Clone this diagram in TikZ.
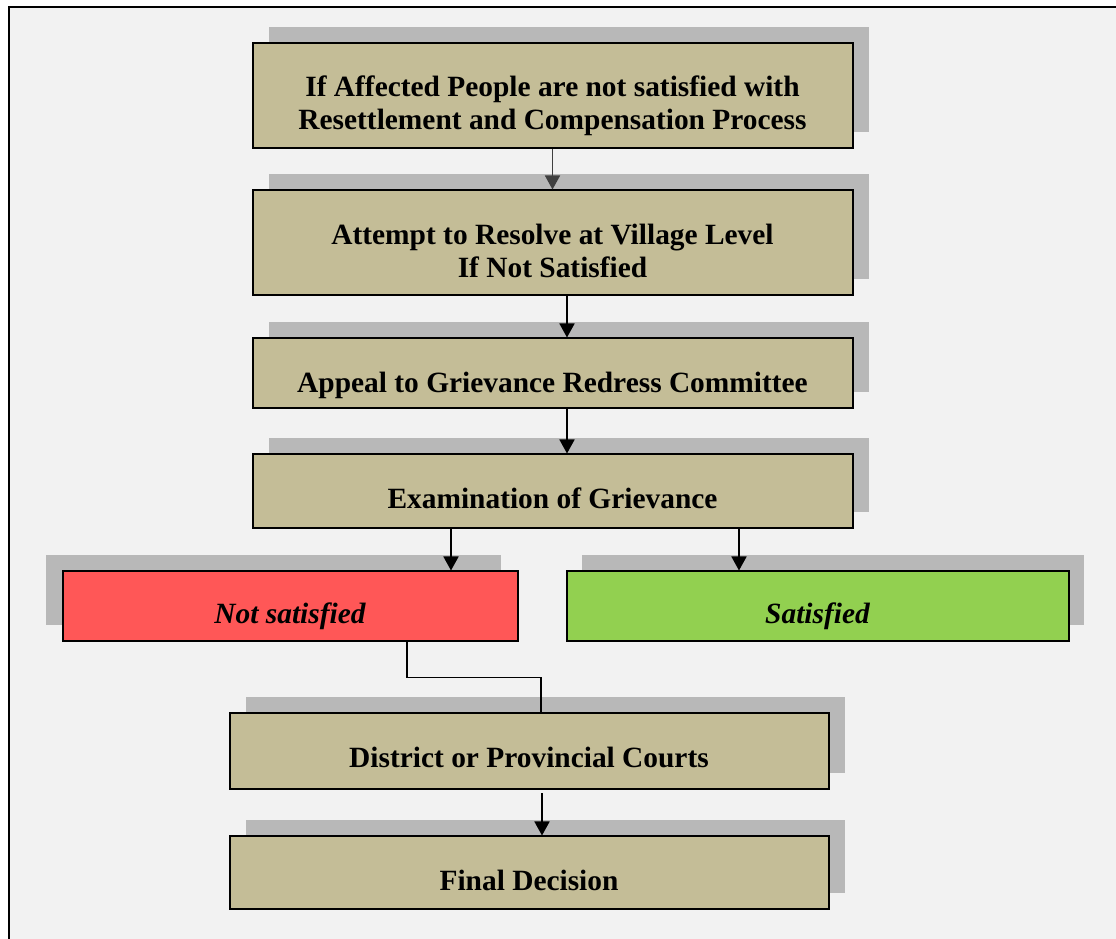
\documentclass[tikz,border=0pt]{standalone}
\usepackage{fontspec}
\setmainfont{Liberation Serif}
\usetikzlibrary{positioning, arrows.meta, shadows}
\definecolor{PaperGrey}{HTML}{F2F2F2}
\definecolor{ShadowGrey}{HTML}{B8B8B8}
\definecolor{StepTan}{RGB}{196, 189, 151}
\definecolor{NoRed}{HTML}{FF5757}
\definecolor{YesGreen}{HTML}{92D050}
\definecolor{ArrowGrey}{HTML}{404040}

\begin{document}
\begin{tikzpicture}[x=1pt, y=1pt,
    flowbox/.style={draw=black, line width=2pt, fill=StepTan, inner sep=0pt, minimum width=600pt},
    shadowed/.style={drop shadow={shadow xshift=#1, shadow yshift=16.5pt, fill=ShadowGrey, opacity=1}},
    flowtext/.style={font=\fontsize{29.4}{33}\selectfont\bfseries, align=center, inner sep=0pt},
    flowarrow/.style={line width=1.7pt, -{Triangle[width=15pt, length=14pt]}},
    link/.style={line width=1.7pt}]
    \useasboundingbox (0,0) rectangle (1116,939);

    % Page and frame
    \fill[white] (0,0) rectangle (1116,939);
    \fill[PaperGrey] (9,0) rectangle (1116,932);
    \draw[line width=2.2pt] (9,0) -- (9,932) -- (1116,932);

    % Main chain
    \node[flowbox, shadowed=16.5pt, minimum height=105pt] (affected) at (552.5,843) {};
    \node[flowtext] (affected-t) at ([yshift=-10]affected.center) {If Affected People are not satisfied with\\Resettlement and Compensation Process};

    \node[flowbox, shadowed=16.5pt, minimum height=105pt] (village) at (552.5,696) {};
    \node[flowtext] (village-t) at ([yshift=-8]village.center) {Attempt to Resolve at Village Level\\If Not Satisfied};

    \node[flowbox, shadowed=16.5pt, minimum height=70pt] (appeal) at (552.5,565.5) {};
    \node[flowtext] (appeal-t) at ([yshift=-11.8]appeal.center) {Appeal to Grievance Redress Committee};

    \node[flowbox, shadowed=16.5pt, minimum height=74pt] (exam) at (552.5,447.5) {};
    \node[flowtext] (exam-t) at ([yshift=-6.5]exam.center) {Examination of Grievance};

    % Outcomes
    \node[flowbox, fill=NoRed, shadowed=-17pt, minimum width=455pt, minimum height=70pt] (notsat) at (290,332.5) {};
    \node[flowtext, font=\fontsize{29.4}{33}\selectfont\bfseries\itshape] (notsat-t) at ([yshift=-10]notsat.center) {Not satisfied};

    \node[flowbox, fill=YesGreen, shadowed=15.5pt, minimum width=502pt, minimum height=70pt] (sat) at (817.5,332.5) {};
    \node[flowtext, font=\fontsize{29.4}{33}\selectfont\bfseries\itshape] (sat-t) at ([yshift=-10]sat.center) {Satisfied};

    % Courts
    \node[flowbox, shadowed=16pt, minimum width=599pt, minimum height=76pt] (court) at (529,187.5) {};
    \node[flowtext] (court-t) at ([yshift=-5.5]court.center) {District or Provincial Courts};

    \node[flowbox, shadowed=16pt, minimum width=599pt, minimum height=73pt] (final) at (529,66) {};
    \node[flowtext] (final-t) at ([yshift=-7]final.center) {Final Decision};

    % Connectors
    \draw[flowarrow, ArrowGrey] (affected.south) -- (village.north);
    \draw[flowarrow] ([xshift=14.5]village.south) -- ([xshift=14.5]appeal.north);
    \draw[flowarrow] ([xshift=14.5]appeal.south) -- ([xshift=14.5]exam.north);
    \draw[flowarrow] ([xshift=-101.5]exam.south) -- ([xshift=161]notsat.north);
    \draw[flowarrow] ([xshift=186.5]exam.south) -- ([xshift=-78.5]sat.north);
    \draw[link] ([xshift=117]notsat.south) -- ++(0,-35) -| ([xshift=12]court.north);
    \draw[flowarrow] ([xshift=13, yshift=-3]court.south) -- ([xshift=13]final.north);
\end{tikzpicture}
\end{document}
